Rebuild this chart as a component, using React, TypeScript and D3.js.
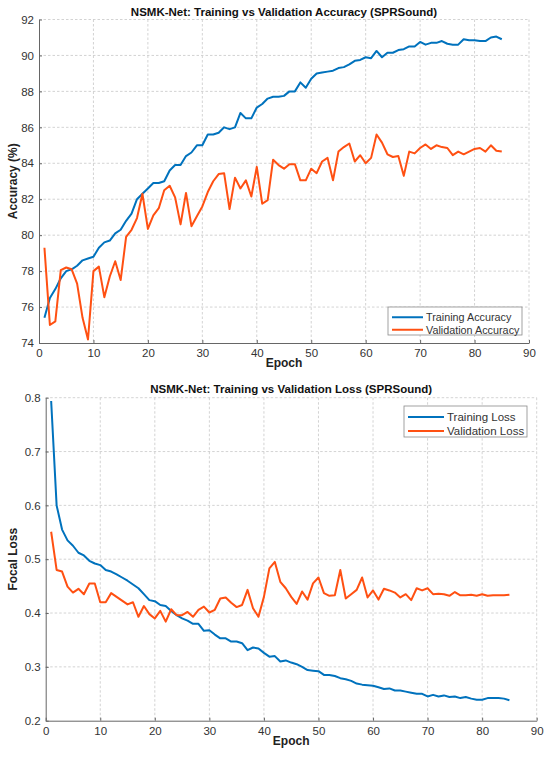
import * as d3 from "d3";
import { useEffect, useRef } from "react";

const epochs = d3.range(1, 86);

const trainAcc = [
  75.4, 76.5, 77.0, 77.6, 78.0, 78.1, 78.3, 78.6, 78.7, 78.8,
  79.3, 79.6, 79.7, 80.1, 80.3, 80.8, 81.2, 82.0, 82.3, 82.6,
  82.9, 82.9, 83.0, 83.6, 83.9, 83.9, 84.4, 84.6, 85.0, 85.0,
  85.6, 85.6, 85.7, 86.0, 85.9, 86.0, 86.8, 86.5, 86.5, 87.1,
  87.3, 87.6, 87.7, 87.7, 87.75, 88.0, 88.0, 88.5, 88.2, 88.7,
  89.0, 89.05, 89.1, 89.15, 89.3, 89.35, 89.5, 89.7, 89.75, 89.9,
  89.85, 90.25, 89.9, 90.15, 90.15, 90.3, 90.35, 90.5, 90.5, 90.75,
  90.6, 90.7, 90.7, 90.8, 90.65, 90.6, 90.6, 90.9, 90.85, 90.85,
  90.8, 90.8, 91.0, 91.05, 90.9,
];

const valAcc = [
  79.3, 75.0, 75.2, 78.05, 78.2, 78.1, 77.3, 75.4, 74.2, 78.0,
  78.25, 76.55, 77.7, 78.55, 77.5, 79.9, 80.3, 80.95, 82.3, 80.35,
  81.1, 81.5, 82.5, 82.75, 82.1, 80.6, 82.35, 80.5, 81.05, 81.6,
  82.4, 83.0, 83.4, 83.45, 81.45, 83.2, 82.6, 83.05, 82.15, 83.8,
  81.75, 81.95, 84.2, 83.9, 83.7, 83.95, 83.95, 83.05, 83.05, 83.7,
  83.45, 84.1, 84.3, 83.05, 84.65, 84.9, 85.1, 84.1, 84.45, 84.0,
  84.3, 85.6, 85.15, 84.5, 84.35, 84.4, 83.3, 84.65, 84.55, 84.85,
  85.05, 84.8, 85.0, 84.9, 84.85, 84.45, 84.65, 84.5, 84.65, 84.8,
  84.85, 84.65, 85.0, 84.7, 84.65,
];

const trainLoss = [
  0.794, 0.6, 0.555, 0.535, 0.525, 0.512, 0.507, 0.497, 0.492, 0.489,
  0.48, 0.477, 0.472, 0.466, 0.46, 0.453, 0.446, 0.435, 0.424, 0.422,
  0.415, 0.413, 0.404, 0.396, 0.39, 0.386, 0.38, 0.38, 0.367, 0.368,
  0.36, 0.353, 0.353, 0.347, 0.347, 0.344, 0.331, 0.336, 0.334, 0.326,
  0.319, 0.32, 0.31, 0.312, 0.308, 0.305, 0.3, 0.294, 0.293, 0.292,
  0.285, 0.285, 0.283, 0.279, 0.277, 0.274, 0.269, 0.267, 0.266, 0.265,
  0.262, 0.259, 0.26, 0.256, 0.256, 0.254, 0.252, 0.25, 0.25, 0.245,
  0.248, 0.245, 0.247, 0.244, 0.245, 0.242, 0.244, 0.241, 0.239, 0.239,
  0.242, 0.242, 0.242, 0.241, 0.238,
];

const valLoss = [
  0.551, 0.48, 0.477, 0.449, 0.438, 0.445, 0.435, 0.455, 0.455, 0.42,
  0.42, 0.437, 0.43, 0.423, 0.416, 0.42, 0.393, 0.413, 0.398, 0.39,
  0.404, 0.384, 0.407, 0.396, 0.396, 0.402, 0.393, 0.406, 0.412, 0.401,
  0.406, 0.427, 0.429, 0.419, 0.411, 0.415, 0.443, 0.409, 0.393, 0.43,
  0.483, 0.495, 0.458, 0.446, 0.43, 0.417, 0.44, 0.425, 0.455, 0.466,
  0.437, 0.432, 0.433, 0.48, 0.427, 0.435, 0.443, 0.466, 0.429, 0.442,
  0.425, 0.445, 0.442, 0.438, 0.429, 0.435, 0.424, 0.446, 0.442, 0.446,
  0.435, 0.436, 0.435, 0.432, 0.439, 0.433, 0.433, 0.434, 0.432, 0.435,
  0.432, 0.433, 0.433, 0.433, 0.434,
];

const xTicks = d3.range(0, 91, 10);
const accTicks = d3.range(74, 93, 2);
const lossTicks = [0.2, 0.3, 0.4, 0.5, 0.6, 0.7, 0.8];

const BLUE = "#0072BD";
const ORANGE = "#FF5012";
const FONT = "'Liberation Sans', Arial, sans-serif";

interface PanelSpec {
  title: string;
  yLabel: string;
  yDomain: [number, number];
  yTicks: number[];
  yFormat: (v: number) => string;
  series: { name: string; values: number[]; color: string }[];
  box: { left: number; right: number; top: number; bottom: number };
  legend: { x: number; y: number; w: number; h: number; line: number; font: number };
  titleY: number;
  xLabelY: number;
  yLabelX: number;
}

const panels: PanelSpec[] = [
  {
    title: "NSMK-Net: Training vs Validation Accuracy (SPRSound)",
    yLabel: "Accuracy (%)",
    yDomain: [74, 92],
    yTicks: accTicks,
    yFormat: (v) => d3.format("d")(v),
    series: [
      { name: "Training Accuracy", values: trainAcc, color: BLUE },
      { name: "Validation Accuracy", values: valAcc, color: ORANGE },
    ],
    box: { left: 39, right: 529, top: 19.5, bottom: 343 },
    legend: { x: 388, y: 307, w: 134, h: 28, line: 31, font: 10.8 },
    titleY: 16,
    xLabelY: 367,
    yLabelX: 17,
  },
  {
    title: "NSMK-Net: Training vs Validation Loss (SPRSound)",
    yLabel: "Focal Loss",
    yDomain: [0.2, 0.8],
    yTicks: lossTicks,
    yFormat: (v) => d3.format(".1f")(v),
    series: [
      { name: "Training Loss", values: trainLoss, color: BLUE },
      { name: "Validation Loss", values: valLoss, color: ORANGE },
    ],
    box: { left: 45.7, right: 536.7, top: 397.7, bottom: 720.7 },
    legend: { x: 404, y: 406, w: 123, h: 31, line: 36, font: 11.5 },
    titleY: 393,
    xLabelY: 745,
    yLabelX: 17,
  },
];

export default function App() {
  const svgRef = useRef<SVGSVGElement | null>(null);

  useEffect(() => {
    if (!svgRef.current) return;
    const svg = d3.select(svgRef.current);
    svg.selectAll("*").remove();

    svg.append("rect").attr("width", 550).attr("height", 762).attr("fill", "#fff");

    panels.forEach((p) => {
      const { left, right, top, bottom } = p.box;
      const x = d3.scaleLinear().domain([0, 90]).range([left, right]);
      const y = d3.scaleLinear().domain(p.yDomain).range([bottom, top]);
      const g = svg.append("g");

      // grid
      g.selectAll(".vgrid")
        .data(xTicks.slice(1))
        .enter()
        .append("line")
        .attr("x1", (d) => x(d))
        .attr("x2", (d) => x(d))
        .attr("y1", top)
        .attr("y2", bottom)
        .attr("stroke", "#c8c8c8")
        .attr("stroke-width", 0.8)
        .attr("stroke-dasharray", "2.5,2");
      g.selectAll(".hgrid")
        .data(p.yTicks.slice(1))
        .enter()
        .append("line")
        .attr("x1", left)
        .attr("x2", right)
        .attr("y1", (d) => y(d))
        .attr("y2", (d) => y(d))
        .attr("stroke", "#c8c8c8")
        .attr("stroke-width", 0.8)
        .attr("stroke-dasharray", "2.5,2");

      // axes
      const xAxis = g
        .append("g")
        .attr("transform", `translate(0,${bottom})`)
        .call(d3.axisBottom(x).tickValues(xTicks).tickSizeInner(-3).tickSizeOuter(0).tickPadding(6));
      const yAxis = g
        .append("g")
        .attr("transform", `translate(${left},0)`)
        .call(
          d3
            .axisLeft(y)
            .tickValues(p.yTicks)
            .tickFormat((d) => p.yFormat(d as number))
            .tickSizeInner(-3)
            .tickSizeOuter(0)
            .tickPadding(5),
        );
      [xAxis, yAxis].forEach((a) => {
        a.select(".domain").attr("stroke", "#666").attr("stroke-width", 1);
        a.selectAll(".tick line").attr("stroke", "#666");
        a.selectAll(".tick text")
          .attr("fill", "#333")
          .style("font-family", FONT)
          .style("font-size", "11.5px");
      });

      // lines
      p.series.forEach((s) => {
        const line = d3
          .line<number>()
          .x((_, i) => x(epochs[i]))
          .y((d) => y(d));
        g.append("path")
          .datum(s.values)
          .attr("d", line)
          .attr("fill", "none")
          .attr("stroke", s.color)
          .attr("stroke-width", 2)
          .attr("stroke-linejoin", "round");
      });

      // title and labels
      g.append("text")
        .attr("x", (left + right) / 2)
        .attr("y", p.titleY)
        .attr("text-anchor", "middle")
        .style("font-family", FONT)
        .style("font-size", "11.5px")
        .style("font-weight", "bold")
        .attr("fill", "#111")
        .text(p.title);
      g.append("text")
        .attr("x", (left + right) / 2)
        .attr("y", p.xLabelY)
        .attr("text-anchor", "middle")
        .style("font-family", FONT)
        .style("font-size", "12px")
        .style("font-weight", "bold")
        .attr("fill", "#222")
        .text("Epoch");
      g.append("text")
        .attr("transform", `translate(${p.yLabelX},${(top + bottom) / 2}) rotate(-90)`)
        .attr("text-anchor", "middle")
        .style("font-family", FONT)
        .style("font-size", "12px")
        .style("font-weight", "bold")
        .attr("fill", "#222")
        .text(p.yLabel);

      // legend
      const lg = g.append("g").attr("transform", `translate(${p.legend.x},${p.legend.y})`);
      lg.append("rect")
        .attr("width", p.legend.w)
        .attr("height", p.legend.h)
        .attr("fill", "#fff")
        .attr("stroke", "#8a8a8a")
        .attr("stroke-width", 0.8);
      const rowH = p.legend.h / 2 - 1.5;
      p.series.forEach((s, i) => {
        const cy = 3 + rowH * (i + 0.5) + 1;
        lg.append("line")
          .attr("x1", 4)
          .attr("x2", 4 + p.legend.line)
          .attr("y1", cy)
          .attr("y2", cy)
          .attr("stroke", s.color)
          .attr("stroke-width", 2);
        lg.append("text")
          .attr("x", 7 + p.legend.line)
          .attr("y", cy + 4)
          .style("font-family", FONT)
          .style("font-size", `${p.legend.font}px`)
          .attr("fill", "#333")
          .text(s.name);
      });
    });
  }, []);

  return (
    <div style={{ position: "absolute", left: 0, top: 0, width: 550, height: 762 }}>
      <svg ref={svgRef} width={550} height={762} style={{ display: "block" }} />
    </div>
  );
}
